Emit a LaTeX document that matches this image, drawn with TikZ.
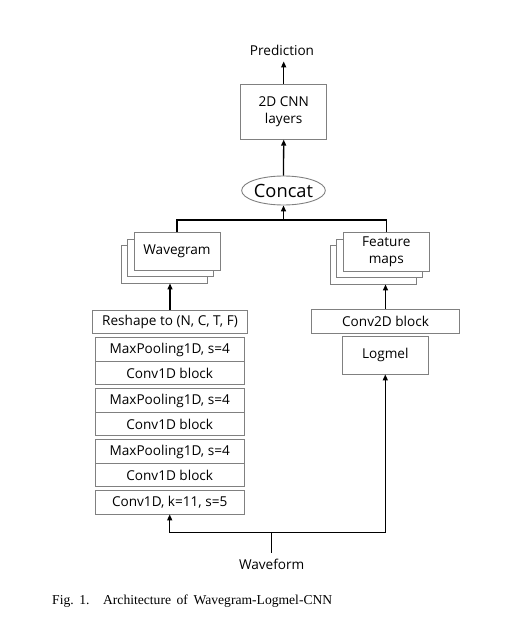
\documentclass[tikz,border=0pt]{standalone}
\usepackage{fontspec}
\setmainfont{Liberation Serif}
\newfontfamily\diagfont{Open Sans}
\usetikzlibrary{arrows.meta,shapes.geometric}
\definecolor{boxgray}{RGB}{128,128,128}
\tikzset{
  blk/.style={draw=boxgray, line width=0.9pt, fill=white, rectangle, inner sep=0pt,
    font=\diagfont\fontsize{13.6}{17.5}\selectfont, align=center},
  lbl/.style={font=\diagfont\fontsize{13.6}{17}\selectfont, inner sep=0pt},
  arr/.style={draw=black, line width=1.3pt, -{Triangle[width=5pt,length=6pt]}},
  wire/.style={draw=black, line width=1.3pt},
}
\begin{document}
\begin{tikzpicture}[x=1pt,y=-1pt]
\useasboundingbox (0,0) rectangle (504,642);
% top
\node[lbl] (pred) at (282,50) {Prediction};
\node[blk, minimum width=86pt, minimum height=55pt] (cnn) at (283.7,111.7) {2D CNN\\layers};
\node[draw=boxgray, line width=0.9pt, ellipse, inner sep=0pt, minimum width=65pt, minimum height=29pt,
  font=\diagfont\fontsize{18.3}{20}\selectfont] (concat) at (283.5,190.5) {Concat};
% wavegram stack
\node[blk, minimum width=86pt, minimum height=37.5pt] (waveb2) at (164,264.25) {};
\node[blk, minimum width=86pt, minimum height=37.5pt] (waveb1) at (170.5,257.75) {};
\node[blk, minimum width=86pt, minimum height=37.5pt] (wave) at (177,251.25) {Wavegram};
% feature maps stack
\node[blk, minimum width=86pt, minimum height=38.5pt] (featb2) at (373.3,264.75) {};
\node[blk, minimum width=86pt, minimum height=38.5pt] (featb1) at (379.8,258.25) {};
\node[blk, minimum width=86pt, minimum height=38.5pt] (feat) at (386.3,251.75) {Feature\\maps};
% left column
\node[blk, minimum width=154.6pt, minimum height=23.3pt] (reshape) at (170,321.7) {Reshape to (N, C, T, F)};
\node[blk, minimum width=149.3pt, minimum height=24pt] (mp1) at (169.7,349.5) {MaxPooling1D, s=4};
\node[blk, minimum width=149.3pt, minimum height=23pt] (cv1) at (169.7,373) {Conv1D block};
\node[blk, minimum width=149.3pt, minimum height=24pt] (mp2) at (169.7,400.5) {MaxPooling1D, s=4};
\node[blk, minimum width=149.3pt, minimum height=23pt] (cv2) at (169.7,424.2) {Conv1D block};
\node[blk, minimum width=149.3pt, minimum height=24pt] (mp3) at (169.7,451.7) {MaxPooling1D, s=4};
\node[blk, minimum width=149.3pt, minimum height=23pt] (cv3) at (169.7,475) {Conv1D block};
\node[blk, minimum width=149.3pt, minimum height=23.3pt] (c1k) at (169.7,502.3) {Conv1D, k=11, s=5};
% right column
\node[blk, minimum width=147.6pt, minimum height=24pt] (conv2d) at (385.5,321.3) {Conv2D block};
\node[blk, minimum width=86pt, minimum height=37.3pt] (logmel) at (385.3,355.3) {Logmel};
% bottom
\node[lbl] (wf) at (271.7,564) {Waveform};
\node[font=\fontsize{13.6}{16}\selectfont, inner sep=0pt, anchor=west] (cap) at (52,601)
  {\makebox[280pt][s]{Fig.\ 1.\quad Architecture of Wavegram-Logmel-CNN}};
% connectors
\draw[arr, shorten >=6pt] (cnn.north) -- (cnn.north |- pred.south);
\draw[arr] (concat.north) -- (cnn.south);
\coordinate (join) at (283.5,220);
\draw[wire] (wave.north) |- (join);
\draw[wire] (feat.north) |- (join);
\draw[arr] (join) -- (concat.south);
\draw[arr] (reshape.north) -- (reshape.north |- waveb2.south);
\draw[arr] (conv2d.north) -- (conv2d.north |- featb2.south);
\coordinate (split) at (271.7,532.3);
\draw[wire, shorten <=6pt] (wf.north) -- (split);
\draw[arr] (split) -| (c1k.south);
\draw[arr] (split) -| (logmel.south);
\end{tikzpicture}
\end{document}
